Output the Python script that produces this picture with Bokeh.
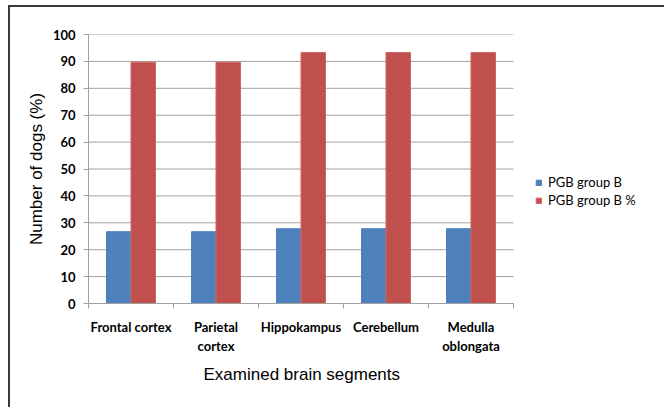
import numpy as np
from bokeh.plotting import figure
from bokeh.models import Legend, LegendItem, FixedTicker, ColumnDataSource, Title
from bokeh.embed import file_html
from bokeh.resources import INLINE

categories = ["Frontal cortex", "Parietal\ncortex", "Hippokampus", "Cerebellum", "Medulla\noblongata"]
series_names = ["PGB group B", "PGB group B %"]
pgb_group_b = [26.7, 26.7, 27.8, 27.8, 27.8]
pgb_group_b_pct = [89.7, 89.7, 93.3, 93.3, 93.3]
y_ticks = [0, 10, 20, 30, 40, 50, 60, 70, 80, 90, 100]
colors = ["#4F81BD", "#C0504D"]
x_title = "Examined brain segments"
y_title = "Number of dogs (%)"

n = len(categories)
idx = np.arange(n)
bar_w = 0.288
cat_px = 85          # pixel width of one category slot
frame_w = 576        # frame also hosts the legend area on the right
x_max = frame_w / cat_px

p = figure(frame_width=frame_w, frame_height=269, output_backend="svg", toolbar_location=None,
           x_range=(0, x_max), y_range=(0, 100),
           min_border_left=78, min_border_right=0, min_border_top=27, min_border_bottom=104)
p.styles = {"border-left": "2px solid #3a3a3a", "border-top": "2px solid #3a3a3a",
            "margin-left": "8px", "margin-top": "5px"}
p.outline_line_color = None
p.background_fill_color = "white"

# horizontal gridlines only across the category area
p.xgrid.grid_line_color = None
p.ygrid.grid_line_color = None
p.segment(x0=[0] * len(y_ticks), x1=[n] * len(y_ticks), y0=y_ticks, y1=y_ticks,
          line_color="#A0A0A0", line_width=1)

src1 = ColumnDataSource(dict(x=idx + 0.5 - bar_w / 2, top=pgb_group_b))
src2 = ColumnDataSource(dict(x=idx + 0.5 + bar_w / 2, top=pgb_group_b_pct))
r1 = p.vbar(x="x", top="top", width=bar_w, source=src1, fill_color=colors[0], line_color=colors[0])
r2 = p.vbar(x="x", top="top", width=bar_w, source=src2, fill_color=colors[1], line_color="#D06562")

# x axis: labels at category centres, ticks at boundaries
xa = p.xaxis[0]
xa.bounds = (0, n)
xa.ticker = FixedTicker(ticks=list(idx + 0.5), minor_ticks=list(np.arange(n + 1)))
xa.major_label_overrides = {float(i + 0.5): c for i, c in zip(idx, categories)}
xa.major_tick_line_color = None
xa.major_tick_out = 5
xa.minor_tick_line_color = "#A0A0A0"
xa.minor_tick_out = 5
xa.minor_tick_in = 0
xa.axis_line_color = "#A0A0A0"
xa.major_label_text_font = "Lato"
xa.major_label_text_font_style = "bold"
xa.major_label_text_font_size = "13px"
xa.major_label_text_color = "black"
xa.major_label_standoff = 10

# x-axis title placed under the category area (not the whole frame)
xt = Title(text=x_title, align="left", offset=115,
           text_font="Liberation Sans", text_font_style="normal", text_font_size="17px",
           text_color="black", standoff=12)
p.add_layout(xt, "below")

ya = p.yaxis[0]
ya.ticker = FixedTicker(ticks=y_ticks)
ya.minor_tick_line_color = None
ya.major_tick_out = 5
ya.major_tick_in = 0
ya.major_tick_line_color = "#A0A0A0"
ya.axis_line_color = "#A0A0A0"
ya.major_label_text_font = "Lato"
ya.major_label_text_font_style = "bold"
ya.major_label_text_font_size = "13px"
ya.major_label_text_color = "black"
ya.major_label_standoff = 8
ya.axis_label = y_title
ya.axis_label_text_font = "Liberation Sans"
ya.axis_label_text_font_style = "normal"
ya.axis_label_text_font_size = "17px"
ya.axis_label_text_color = "black"
ya.axis_label_standoff = 4

legend = Legend(items=[LegendItem(label=series_names[0], renderers=[r1]),
                       LegendItem(label=series_names[1], renderers=[r2])],
                location=(447, 95), orientation="vertical")
legend.border_line_color = None
legend.background_fill_alpha = 0
legend.padding = 0
legend.margin = 0
legend.spacing = 2
legend.glyph_width = 7
legend.glyph_height = 7
legend.label_standoff = 6
legend.label_text_font = "Lato"
legend.label_text_font_size = "13px"
legend.label_text_color = "black"
legend.label_height = 14
p.add_layout(legend)

open("out.html", "w").write(file_html(p, INLINE))
